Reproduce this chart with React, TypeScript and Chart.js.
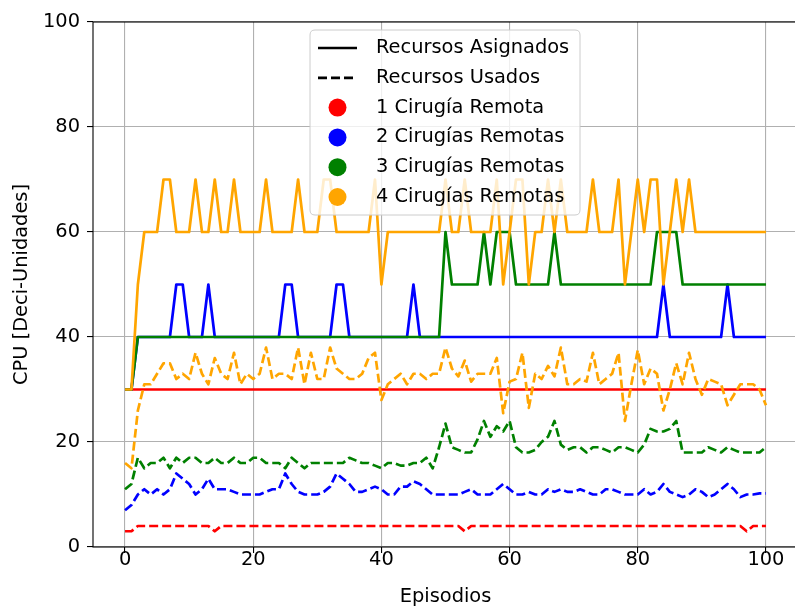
import React, { useEffect, useRef } from "react";
import { Chart, registerables } from "chart.js";

Chart.register(...registerables);

// Episodes on the x axis
const episodes: number[] = [
  0, 1, 2, 3, 4, 5, 6, 7, 8, 9, 10, 11, 12, 13, 14, 15, 16, 17, 18, 19, 20,
  21, 22, 23, 24, 25, 26, 27, 28, 29, 30, 31, 32, 33, 34, 35, 36, 37, 38, 39, 40,
  41, 42, 43, 44, 45, 46, 47, 48, 49, 50, 51, 52, 53, 54, 55, 56, 57, 58, 59, 60,
  61, 62, 63, 64, 65, 66, 67, 68, 69, 70, 71, 72, 73, 74, 75, 76, 77, 78, 79, 80,
  81, 82, 83, 84, 85, 86, 87, 88, 89, 90, 91, 92, 93, 94, 95, 96, 97, 98, 99, 100,
];

const xTicks: number[] = [0, 20, 40, 60, 80, 100];
const yTicks: number[] = [0, 20, 40, 60, 80, 100];

const seriesNames: string[] = [
  "1 Cirugía Remota",
  "2 Cirugías Remotas",
  "3 Cirugías Remotas",
  "4 Cirugías Remotas",
];
const styleNames: string[] = ["Recursos Asignados", "Recursos Usados"];

// Allocated CPU (solid lines)
const asig1: number[] = [
  30, 30, 30, 30, 30, 30, 30, 30, 30, 30, 30, 30, 30, 30, 30, 30, 30, 30, 30, 30,
  30, 30, 30, 30, 30, 30, 30, 30, 30, 30, 30, 30, 30, 30, 30, 30, 30, 30, 30, 30,
  30, 30, 30, 30, 30, 30, 30, 30, 30, 30, 30, 30, 30, 30, 30, 30, 30, 30, 30, 30,
  30, 30, 30, 30, 30, 30, 30, 30, 30, 30, 30, 30, 30, 30, 30, 30, 30, 30, 30, 30,
  30, 30, 30, 30, 30, 30, 30, 30, 30, 30, 30, 30, 30, 30, 30, 30, 30, 30, 30, 30,
  30,
];
const asig2: number[] = [
  30, 30, 40, 40, 40, 40, 40, 40, 50, 50, 40, 40, 40, 50, 40, 40, 40, 40, 40, 40,
  40, 40, 40, 40, 40, 50, 50, 40, 40, 40, 40, 40, 40, 50, 50, 40, 40, 40, 40, 40,
  40, 40, 40, 40, 40, 50, 40, 40, 40, 40, 40, 40, 40, 40, 40, 40, 40, 40, 40, 40,
  40, 40, 40, 40, 40, 40, 40, 40, 40, 40, 40, 40, 40, 40, 40, 40, 40, 40, 40, 40,
  40, 40, 40, 40, 50, 40, 40, 40, 40, 40, 40, 40, 40, 40, 50, 40, 40, 40, 40, 40,
  40,
];
const asig3: number[] = [
  30, 30, 40, 40, 40, 40, 40, 40, 40, 40, 40, 40, 40, 40, 40, 40, 40, 40, 40, 40,
  40, 40, 40, 40, 40, 40, 40, 40, 40, 40, 40, 40, 40, 40, 40, 40, 40, 40, 40, 40,
  40, 40, 40, 40, 40, 40, 40, 40, 40, 40, 60, 50, 50, 50, 50, 50, 60, 50, 60, 60,
  60, 50, 50, 50, 50, 50, 50, 60, 50, 50, 50, 50, 50, 50, 50, 50, 50, 50, 50, 50,
  50, 50, 50, 60, 60, 60, 60, 50, 50, 50, 50, 50, 50, 50, 50, 50, 50, 50, 50, 50,
  50,
];
const asig4: number[] = [
  30, 30, 50, 60, 60, 60, 70, 70, 60, 60, 60, 70, 60, 60, 70, 60, 60, 70, 60, 60,
  60, 60, 70, 60, 60, 60, 60, 70, 60, 60, 60, 70, 70, 60, 60, 60, 60, 60, 60, 70,
  50, 60, 60, 60, 60, 60, 60, 60, 60, 60, 70, 60, 60, 70, 60, 60, 60, 60, 70, 50,
  60, 70, 70, 50, 60, 60, 70, 60, 70, 60, 60, 60, 60, 70, 60, 60, 60, 70, 50, 60,
  70, 60, 70, 70, 50, 60, 70, 60, 70, 60, 60, 60, 60, 60, 60, 60, 60, 60, 60, 60,
  60,
];

// Used CPU (dashed lines)
const uso1: number[] = [
  3, 3, 4, 4, 4, 4, 4, 4, 4, 4, 4, 4, 4, 4, 3, 4, 4, 4, 4, 4,
  4, 4, 4, 4, 4, 4, 4, 4, 4, 4, 4, 4, 4, 4, 4, 4, 4, 4, 4, 4,
  4, 4, 4, 4, 4, 4, 4, 4, 4, 4, 4, 4, 4, 3, 4, 4, 4, 4, 4, 4,
  4, 4, 4, 4, 4, 4, 4, 4, 4, 4, 4, 4, 4, 4, 4, 4, 4, 4, 4, 4,
  4, 4, 4, 4, 4, 4, 4, 4, 4, 4, 4, 4, 4, 4, 4, 4, 4, 3, 4, 4,
  4,
];
const uso2: number[] = [
  7, 8, 10, 11, 10, 11, 10, 11, 14, 13, 12, 10, 11, 13, 11, 11, 11, 10.5, 10, 10,
  10, 10, 10.5, 11, 11, 14, 12, 10.5, 10, 10, 10, 10.5, 11.5, 14, 13, 12, 10.5, 10.5, 11, 11.5,
  11, 10, 10, 11.5, 11.5, 12.5, 12, 11, 10, 10, 10, 10, 10, 10.5, 11, 10, 10, 10, 11, 12,
  11, 10, 10, 10.5, 10, 10, 11, 10.5, 11, 10.5, 10.5, 11, 10.5, 10, 10, 11, 11, 10.5, 10, 10,
  10, 11, 10, 10.5, 12, 10.5, 10, 9.5, 10, 11, 10.5, 9.5, 10, 11, 12, 11, 9.5, 10, 10, 10.2,
  10.2,
];
const uso3: number[] = [
  11, 12, 17, 15, 16, 16, 17, 15, 17, 16, 17, 17, 16, 16, 17, 16, 16, 17, 16, 16,
  17, 17, 16, 16, 16, 15, 17, 16, 15, 16, 16, 16, 16, 16, 16, 17, 16.5, 16, 16, 15.5,
  15, 16, 16, 15.5, 15.5, 16, 16, 17, 15, 19, 23.5, 19, 18.5, 18, 18, 20.5, 24, 21, 23, 22,
  24, 19, 18, 18, 18.5, 20, 21, 24, 19.5, 18.5, 19, 19, 18, 19, 19, 18.5, 18, 19, 19, 18.5,
  18, 19.5, 22.5, 22, 22, 22.5, 24, 18, 18, 18, 18, 19, 18.5, 18, 19, 18.5, 18, 18, 18, 18,
  19,
];
const uso4: number[] = [
  16, 15, 26, 31, 31, 33, 35, 35, 32, 33, 32, 37, 33, 31, 36, 33, 32, 37, 31, 33,
  32, 33, 38, 32, 33, 33, 32, 38, 31, 37, 32, 32, 38, 34, 33, 32, 32, 33, 36, 37,
  28, 31, 32, 33, 31, 33, 33, 32, 33, 33, 38, 34, 32.5, 35.5, 31.5, 33, 33, 33, 36, 25.5,
  31.5, 32, 37, 26.5, 33, 32, 34.5, 32.5, 38, 31, 31, 32, 31.5, 37, 31, 32, 33, 37, 24, 31,
  37.5, 31, 34, 33, 26, 30, 35, 31, 37, 32, 29, 32, 31.5, 31, 27, 29, 31, 31, 31, 30,
  27,
];

const colors: string[] = ["#ff0000", "#0000ff", "#008000", "#ffa500"];
const allocated: number[][] = [asig1, asig2, asig3, asig4];
const used: number[][] = [uso1, uso2, uso3, uso4];

const FONT = "DejaVu Sans";
const FONT_SIZE = 19.4;
const DASH = [9, 4];

const toPoints = (vals: number[]) => vals.map((v, i) => ({ x: episodes[i], y: v }));

// Frame, axis titles and the legend box drawn on top of the plot
const overlayPlugin = {
  id: "overlay",
  afterDraw(chart: any) {
    const { ctx, chartArea } = chart;
    const { left, right, top, bottom } = chartArea;
    ctx.save();

    // axes frame
    ctx.strokeStyle = "#000";
    ctx.lineWidth = 1.1;
    ctx.strokeRect(left, top, right - left, bottom - top);

    // axis titles
    ctx.fillStyle = "#000";
    ctx.font = `${FONT_SIZE}px "${FONT}"`;
    ctx.textAlign = "center";
    ctx.textBaseline = "middle";
    ctx.fillText("Episodios", (left + right) / 2, 597);
    ctx.save();
    ctx.translate(22, (top + bottom) / 2);
    ctx.rotate(-Math.PI / 2);
    ctx.fillText("CPU [Deci-Unidades]", 0, 0);
    ctx.restore();

    // legend
    const lx = 310, ly = 30, lw = 270, lh = 185, r = 5;
    ctx.beginPath();
    ctx.moveTo(lx + r, ly);
    ctx.lineTo(lx + lw - r, ly);
    ctx.quadraticCurveTo(lx + lw, ly, lx + lw, ly + r);
    ctx.lineTo(lx + lw, ly + lh - r);
    ctx.quadraticCurveTo(lx + lw, ly + lh, lx + lw - r, ly + lh);
    ctx.lineTo(lx + r, ly + lh);
    ctx.quadraticCurveTo(lx, ly + lh, lx, ly + lh - r);
    ctx.lineTo(lx, ly + r);
    ctx.quadraticCurveTo(lx, ly, lx + r, ly);
    ctx.closePath();
    ctx.fillStyle = "rgba(255,255,255,0.8)";
    ctx.fill();
    ctx.strokeStyle = "#cccccc";
    ctx.lineWidth = 1;
    ctx.stroke();

    const rowY0 = 48;
    const rowStep = 29.8;
    const hx0 = 318, hx1 = 357, tx = 376;
    ctx.textAlign = "left";
    ctx.textBaseline = "middle";
    ctx.font = `${FONT_SIZE}px "${FONT}"`;

    styleNames.forEach((name, i) => {
      const y = rowY0 + i * rowStep;
      ctx.beginPath();
      ctx.strokeStyle = "#000";
      ctx.lineWidth = 2.7;
      ctx.setLineDash(i === 0 ? [] : DASH);
      ctx.moveTo(hx0, y);
      ctx.lineTo(hx1, y);
      ctx.stroke();
      ctx.setLineDash([]);
      ctx.fillStyle = "#000";
      ctx.fillText(name, tx, y);
    });

    seriesNames.forEach((name, i) => {
      const y = rowY0 + (i + 2) * rowStep;
      ctx.beginPath();
      ctx.fillStyle = colors[i];
      ctx.arc((hx0 + hx1) / 2, y, 9, 0, Math.PI * 2);
      ctx.fill();
      ctx.fillStyle = "#000";
      ctx.fillText(name, tx, y);
    });

    ctx.restore();
  },
};

export default function App() {
  const canvasRef = useRef<HTMLCanvasElement | null>(null);

  useEffect(() => {
    document.body.style.margin = "0";
    const canvas = canvasRef.current;
    if (!canvas) return;

    const datasets: any[] = [];
    let k = 0;
    for (let i = 0; i < 4; i++) {
      datasets.push({
        label: `${seriesNames[i]} - ${styleNames[0]}`,
        data: toPoints(allocated[i]),
        borderColor: colors[i],
        borderWidth: 2.7,
        borderJoinStyle: "round",
        borderCapStyle: "butt",
        pointRadius: 0,
        tension: 0,
        fill: false,
        order: 20 - k++,
      });
      datasets.push({
        label: `${seriesNames[i]} - ${styleNames[1]}`,
        data: toPoints(used[i]),
        borderColor: colors[i],
        borderWidth: 2.7,
        borderDash: DASH,
        borderJoinStyle: "round",
        borderCapStyle: "butt",
        pointRadius: 0,
        tension: 0,
        fill: false,
        order: 20 - k++,
      });
    }

    const tickFont = { family: FONT, size: FONT_SIZE };

    const chart = new Chart(canvas, {
      type: "line",
      data: { datasets },
      options: {
        animation: false,
        responsive: false,
        devicePixelRatio: 1,
        layout: { padding: { top: 22, left: 0, right: 2, bottom: 0 } },
        plugins: {
          legend: { display: false },
          tooltip: { enabled: false },
        },
        scales: {
          x: {
            type: "linear",
            min: -5,
            max: 105,
            afterBuildTicks: (s: any) => {
              s.ticks = xTicks.map((v) => ({ value: v }));
            },
            afterFit: (s: any) => {
              s.height = 61;
            },
            grid: {
              color: "#b0b0b0",
              lineWidth: 1.1,
              tickColor: "#000",
              tickLength: 6,
              drawTicks: true,
            },
            border: { display: false },
            ticks: {
              color: "#000",
              font: tickFont,
              padding: -5,
              maxRotation: 0,
              autoSkip: false,
            },
          },
          y: {
            type: "linear",
            min: 0,
            max: 100,
            afterBuildTicks: (s: any) => {
              s.ticks = yTicks.map((v) => ({ value: v }));
            },
            afterFit: (s: any) => {
              s.width = 93;
            },
            grid: {
              color: "#b0b0b0",
              lineWidth: 1.1,
              tickColor: "#000",
              tickLength: 6,
              drawTicks: true,
            },
            border: { display: false },
            ticks: {
              color: "#000",
              font: tickFont,
              padding: 7,
              autoSkip: false,
            },
          },
        },
      },
      plugins: [overlayPlugin],
    } as any);

    return () => chart.destroy();
  }, []);

  return (
    <div style={{ width: 795, height: 608, overflow: "hidden", position: "relative" }}>
      <canvas ref={canvasRef} width={800} height={608} style={{ display: "block" }} />
    </div>
  );
}
